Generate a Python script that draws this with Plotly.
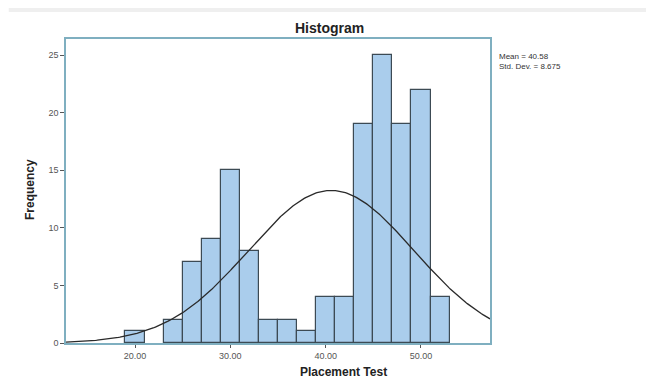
import numpy as np
import plotly.graph_objects as go

bin_centers = [20, 24, 26, 28, 30, 32, 34, 36, 38, 40, 42, 44, 46, 48, 50, 52]
counts = [1, 2, 7, 9, 15, 8, 2, 2, 1, 4, 4, 19, 25, 19, 22, 4]
bin_width = 2
mean = 40.58
std_dev = 8.675
n_total = sum(counts)
x_ticks = [20, 30, 40, 50]
x_tick_labels = ["20.00", "30.00", "40.00", "50.00"]
y_ticks = [0, 5, 10, 15, 20, 25]

x_range = [12.76, 57.24]
y_range = [0, 26.4]

fig = go.Figure()
fig.add_trace(go.Bar(
    x=bin_centers, y=counts, width=bin_width,
    marker=dict(color="#AACDEC", line=dict(color="#3C4A54", width=1.2)),
    showlegend=False, hoverinfo="x+y",
))

xc = np.linspace(x_range[0], x_range[1], 300)
yc = n_total * bin_width / (std_dev * np.sqrt(2 * np.pi)) * np.exp(-0.5 * ((xc - mean) / std_dev) ** 2)
fig.add_trace(go.Scatter(x=xc, y=yc, mode="lines",
                         line=dict(color="#2A2A2A", width=1.3), showlegend=False, hoverinfo="skip"))

axis_font = dict(family="Liberation Sans, Arial, sans-serif", size=9, color="#555555")
fig.update_xaxes(range=x_range, tickvals=x_ticks, ticktext=x_tick_labels,
                 showgrid=False, zeroline=False, showline=True, linecolor="#7FAFC0", linewidth=1.5,
                 mirror=True, ticks="outside", ticklen=3, tickcolor="#555555",
                 tickfont=axis_font)
fig.update_yaxes(range=y_range, tickvals=y_ticks, showgrid=False, zeroline=False,
                 showline=True, linecolor="#7FAFC0", linewidth=1.5, mirror=True,
                 ticks="outside", ticklen=4, tickcolor="#555555", tickfont=axis_font)

fig.update_layout(
    width=646, height=387,
    margin=dict(l=66, r=156, t=39, b=44),
    paper_bgcolor="white", plot_bgcolor="white",
    bargap=0,
    shapes=[dict(type="rect", xref="paper", yref="paper",
                 x0=-0.135, x1=1.37, y0=1 + 27/304, y1=1 + 31/304,
                 fillcolor="#EFEFEF", line=dict(width=0), layer="below")],
    annotations=[
        dict(text="<b>Histogram</b>", xref="paper", yref="paper", x=(329 - 66) / 424, y=1 + 1 / 304,
             xanchor="center", yanchor="bottom", showarrow=False,
             font=dict(family="Liberation Sans, Arial, sans-serif", size=14, color="#222222")),
        dict(text="<b>Placement Test</b>", xref="paper", yref="paper", x=(343 - 66) / 424, y=-20 / 304,
             xanchor="center", yanchor="top", showarrow=False,
             font=dict(family="Liberation Sans, Arial, sans-serif", size=12, color="#222222")),
        dict(text="<b>Frequency</b>", xref="paper", yref="paper", x=-36 / 424, y=(343 - 190) / 304,
             xanchor="center", yanchor="middle", textangle=-90, showarrow=False,
             font=dict(family="Liberation Sans Narrow, Liberation Sans, Arial, sans-serif", size=12, color="#222222")),
        dict(text=f"Mean = {mean}<br>Std. Dev. = {std_dev}", xref="paper", yref="paper",
             x=1 + 7 / 424, y=(343 - 50) / 304, xanchor="left", yanchor="top", align="left",
             showarrow=False,
             font=dict(family="Liberation Sans, Arial, sans-serif", size=8, color="#333333")),
    ],
)

fig.write_html("out.html")
